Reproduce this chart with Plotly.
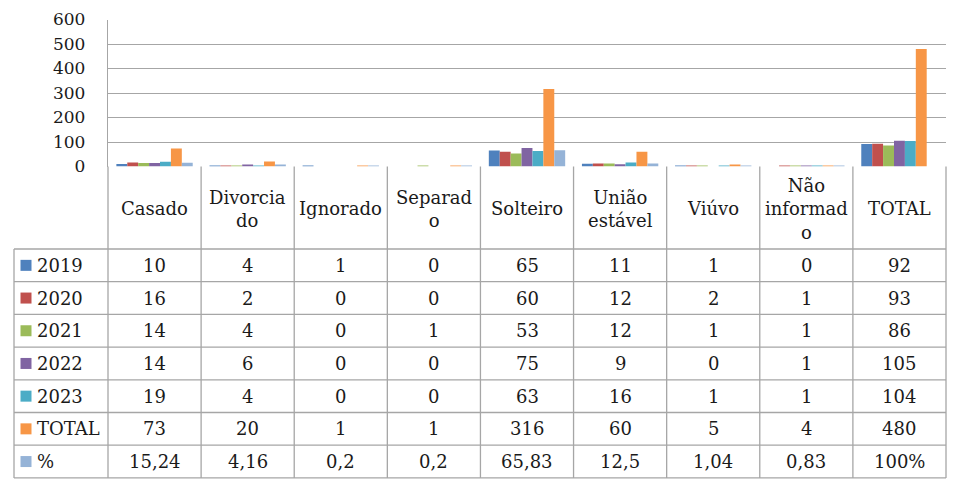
import plotly.graph_objects as go

categories = ["Casado", "Divorciado", "Ignorado", "Separado", "Solteiro",
              "União estável", "Viúvo", "Não informado", "TOTAL"]
header_labels = ["Casado", "Divorcia<br>do", "Ignorado", "Separad<br>o", "Solteiro",
                 "União<br>estável", "Viúvo", "Não<br>informad<br>o", "TOTAL"]
series_names = ["2019", "2020", "2021", "2022", "2023", "TOTAL", "%"]
v2019 = [10, 4, 1, 0, 65, 11, 1, 0, 92]
v2020 = [16, 2, 0, 0, 60, 12, 2, 1, 93]
v2021 = [14, 4, 0, 1, 53, 12, 1, 1, 86]
v2022 = [14, 6, 0, 0, 75, 9, 0, 1, 105]
v2023 = [19, 4, 0, 0, 63, 16, 1, 1, 104]
vtotal = [73, 20, 1, 1, 316, 60, 5, 4, 480]
vpct = [15.24, 4.16, 0.2, 0.2, 65.83, 12.5, 1.04, 0.83, None]
pct_total_label = "100%"
y_ticks = [0, 100, 200, 300, 400, 500, 600]

series_values = [v2019, v2020, v2021, v2022, v2023, vtotal, vpct]
colors = ["#4F81BD", "#C0504D", "#9BBB59", "#8064A2", "#4BACC6", "#F79646", "#95B3D7"]

W, H = 960, 481
OFF = 8  # page body margin offset
FONT = "DejaVu Serif"
LINE = "#a6a6a6"
TXT = "#1a1a1a"
FS = 18

# layout geometry (pixels, in screenshot coordinates)
plot_left, plot_right = 108, 946
plot_top, plot_bottom = 19.5, 166.5
table_left = 14
header_bottom = 249
row_h = 32.7

def py(ypx):
    return 1 - (ypx - OFF) / H

def px(xpx):
    return (xpx - OFF) / W

fig = go.Figure()
for name, vals, col in zip(series_names, series_values, colors):
    fig.add_trace(go.Bar(x=categories, y=vals, name=name, marker_color=col,
                         marker_line_width=0))

shapes = []
annotations = []

ncat = len(categories)
col_w = (plot_right - plot_left) / ncat
table_bottom = header_bottom + row_h * len(series_names)
for i in range(ncat + 1):
    xpx = plot_left + i * col_w
    shapes.append(dict(type="line", xref="paper", yref="paper",
                       x0=px(xpx), x1=px(xpx), y0=py(plot_bottom), y1=py(table_bottom),
                       line=dict(color=LINE, width=1.3)))
shapes.append(dict(type="line", xref="paper", yref="paper",
                   x0=px(table_left), x1=px(table_left),
                   y0=py(header_bottom), y1=py(table_bottom),
                   line=dict(color=LINE, width=1.3)))
for r in range(len(series_names) + 1):
    ypx = header_bottom + r * row_h
    shapes.append(dict(type="line", xref="paper", yref="paper",
                       x0=px(table_left), x1=px(plot_right), y0=py(ypx), y1=py(ypx),
                       line=dict(color=LINE, width=1.3)))

for cat, lab in zip(categories, header_labels):
    annotations.append(dict(x=cat, xref="x", y=py((plot_bottom + header_bottom) / 2 + 1),
                            yref="paper", text=lab, showarrow=False,
                            font=dict(family=FONT, size=FS, color=TXT),
                            align="center", xanchor="center", yanchor="middle"))

for r, (name, vals, col) in enumerate(zip(series_names, series_values, colors)):
    yc = header_bottom + r * row_h + row_h / 2
    shapes.append(dict(type="rect", xref="paper", yref="paper",
                       x0=px(20.5), x1=px(31.5), y0=py(yc - 5.5), y1=py(yc + 5.5),
                       fillcolor=col, line=dict(width=0)))
    annotations.append(dict(x=px(35), xref="paper", y=py(yc), yref="paper",
                            text=name, showarrow=False, xanchor="left", yanchor="middle",
                            font=dict(family=FONT, size=FS, color=TXT)))
    for cat, v in zip(categories, vals):
        if v is None:
            txt = pct_total_label
        elif name == "%":
            txt = str(v).replace(".", ",")
        else:
            txt = str(v)
        annotations.append(dict(x=cat, xref="x", y=py(yc), yref="paper",
                                text=txt, showarrow=False, xanchor="center",
                                yanchor="middle",
                                font=dict(family=FONT, size=FS, color=TXT)))

fig.update_layout(
    template="none",
    width=W, height=H,
    margin=dict(l=0, r=0, t=0, b=0, pad=0),
    paper_bgcolor="white", plot_bgcolor="white",
    barmode="group", bargap=0.18, bargroupgap=0,
    showlegend=False,
    shapes=shapes, annotations=annotations,
    xaxis=dict(domain=[px(plot_left), px(plot_right)], showticklabels=False,
               showgrid=False, zeroline=False, showline=False, ticks="",
               automargin=False, fixedrange=True),
    yaxis=dict(domain=[py(plot_bottom), py(plot_top)], range=[0, 600],
               tickvals=y_ticks, showgrid=True, gridcolor=LINE, gridwidth=1.3,
               zeroline=False, showline=True, linecolor=LINE, linewidth=1.3,
               ticks="", ticklabelstandoff=18, automargin=False,
               tickfont=dict(family=FONT, size=17, color=TXT)),
)

fig.write_html("out.html")
